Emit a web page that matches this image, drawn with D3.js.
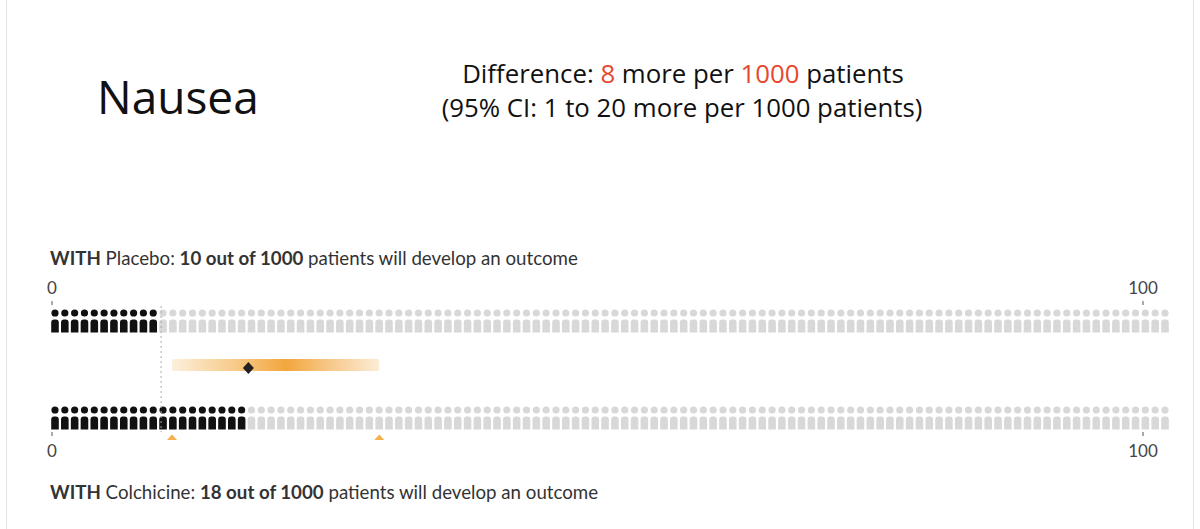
<!DOCTYPE html>
<html><head><meta charset="utf-8">
<script src="https://cdn.jsdelivr.net/npm/d3@7"></script>
<style>
html,body{margin:0;padding:0;background:#fff;}
svg{display:block;}
</style></head>
<body>
<script>
// ---- data ----
const outcome = "Nausea";
const groups = ["Placebo", "Colchicine"];
const groupValues = [10, 18];          // per 1000 patients
const perBase = 1000;
const differenceValue = 8;
const ciDifference = [1, 20];          // more per 1000
const axisTicks = [0, 100];

const W = 1200, H = 529;
const svg = d3.select("body").append("svg").attr("width", W).attr("height", H);

// card frame
svg.append("rect").attr("x", 6.5).attr("y", -2).attr("width", 1187).attr("height", H + 4)
  .attr("fill", "#fff").attr("stroke", "#e3e3e3");

const x = d3.scaleLinear().domain([0, 100]).range([52, 1143]);

// title
svg.append("text").attr("x", 97).attr("y", 114).attr("font-family", "Open Sans")
  .attr("font-size", 46).attr("fill", "#111").text(outcome);

// difference header
const red = "#e6472d";
const h1 = svg.append("text").attr("x", 683).attr("y", 83).attr("text-anchor", "middle")
  .attr("font-family", "Open Sans").attr("font-size", 25.8).attr("fill", "#111");
h1.append("tspan").text("Difference: ");
h1.append("tspan").attr("fill", red).text(differenceValue);
h1.append("tspan").text(" more per ");
h1.append("tspan").attr("fill", red).text(perBase);
h1.append("tspan").text(" patients");
svg.append("text").attr("x", 682).attr("y", 117).attr("text-anchor", "middle")
  .attr("font-family", "Open Sans").attr("font-size", 25.8).attr("fill", "#111")
  .text(`(95% CI: ${ciDifference[0]} to ${ciDifference[1]} more per ${perBase} patients)`);

// group labels
function groupLabel(y, i) {
  const t = svg.append("text").attr("x", 50).attr("y", y).attr("font-family", "Lato")
    .attr("font-size", 18.7).attr("fill", "#333");
  t.append("tspan").attr("font-weight", "bold").text("WITH");
  t.append("tspan").text(` ${groups[i]}: `);
  t.append("tspan").attr("font-weight", "bold").text(`${groupValues[i]} out of ${perBase}`);
  t.append("tspan").text(" patients will develop an outcome");
}
groupLabel(265, 0);
groupLabel(499, 1);

// axes ticks
function axisLabels(tickY1, tickY2, labelY) {
  const g = svg.append("g");
  g.selectAll("line").data(axisTicks).join("line")
    .attr("x1", d => x(d)).attr("x2", d => x(d)).attr("y1", tickY1).attr("y2", tickY2)
    .attr("stroke", "#555").attr("stroke-width", 1);
  g.selectAll("text").data(axisTicks).join("text")
    .attr("x", d => x(d)).attr("y", labelY).attr("text-anchor", d => d === 0 ? "start" : "middle")
    .attr("dx", d => d === 0 ? -5 : 0)
    .attr("font-family", "Lato").attr("font-size", 17).attr("fill", "#444").text(d => d);
}
axisLabels(301, 305, 294);
axisLabels(432, 436, 457);

// icon arrays
const nIcons = 114;
const ix = d3.scalePoint().domain(d3.range(nIcons)).range([55, 1165]);
function person(cx, top) {
  const w = 7.6, r = 3.6, bt = top + 6.5, bh = 13, rr = 3;
  const l = cx - w / 2, rt = cx + w / 2;
  return `M${cx},${top} m${-r},0 a${r},${r} 0 1,0 ${2 * r},0 a${r},${r} 0 1,0 ${-2 * r},0 ` +
    `M${l},${bt + bh} L${l},${bt + rr} Q${l},${bt} ${l + rr},${bt} L${rt - rr},${bt} Q${rt},${bt} ${rt},${bt + rr} L${rt},${bt + bh} Z`;
}
const rowTops = [313, 410];
groupValues.forEach((v, gi) => {
  svg.append("g").selectAll("path").data(d3.range(nIcons)).join("path")
    .attr("d", i => person(ix(i), rowTops[gi]))
    .attr("fill", i => ix(i) < x(v) ? "#111" : "#d8d8d8");
});

// placebo reference dotted line
svg.append("line").attr("x1", x(groupValues[0])).attr("x2", x(groupValues[0]))
  .attr("y1", 306).attr("y2", 432).attr("stroke", "#aaa").attr("stroke-width", 1)
  .attr("stroke-dasharray", "2,3");

// CI bar
const ciLo = groupValues[0] + ciDifference[0], ciHi = groupValues[0] + ciDifference[1];
const defs = svg.append("defs");
const grad = defs.append("linearGradient").attr("id", "ciGrad").attr("x1", "0%").attr("x2", "100%");
[["0%", "#fcefdc"], ["30%", "#f8cb8a"], ["55%", "#f2a73d"], ["78%", "#f7cb90"], ["100%", "#fcecd6"]]
  .forEach(([o, c]) => grad.append("stop").attr("offset", o).attr("stop-color", c));
svg.append("rect").attr("x", x(ciLo)).attr("y", 359).attr("width", x(ciHi) - x(ciLo)).attr("height", 12)
  .attr("rx", 2).attr("fill", "url(#ciGrad)");
const dx = x(groupValues[1]);
svg.append("path").attr("d", `M${dx},${362} L${dx + 5.5},${368} L${dx},${374} L${dx - 5.5},${368} Z`)
  .attr("fill", "#222");

// CI triangles
svg.append("g").selectAll("path").data([ciLo, ciHi]).join("path")
  .attr("d", d => `M${x(d) - 5},440 L${x(d)},434.5 L${x(d) + 5},440 Z`)
  .attr("fill", "#f4b04a");
</script>
</body></html>
